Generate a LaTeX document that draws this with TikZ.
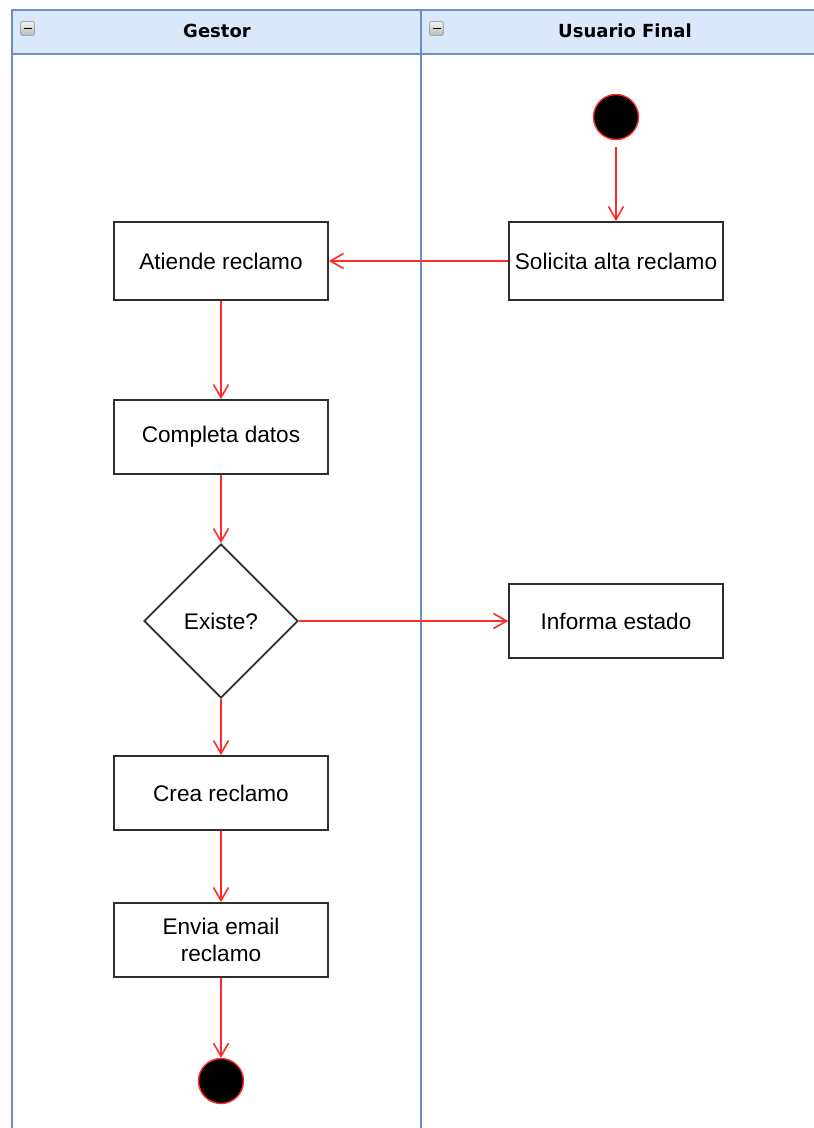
\documentclass[tikz,border=0pt]{standalone}
\usepackage{fontspec}
\setmainfont{Liberation Sans}
\newfontfamily\headfont{DejaVu Sans}
\usetikzlibrary{arrows.meta,shapes.geometric}
\definecolor{lanefill}{HTML}{DAE8FC}
\definecolor{laneline}{HTML}{6C8EBF}
\definecolor{flowred}{HTML}{FF2A2A}
\definecolor{boxline}{HTML}{2E2E2E}
\begin{document}
\begin{tikzpicture}[x=1pt,y=-1pt,
  lanehead/.style={font=\headfont\bfseries\fontsize{18}{20}\selectfont},
  action/.style={draw=boxline,line width=1.8pt,fill=white,minimum width=214pt,minimum height=74pt,
    align=center,font=\fontsize{22.6}{27}\selectfont,inner sep=2pt},
  decision/.style={draw=boxline,line width=1.8pt,fill=white,diamond,minimum width=154pt,minimum height=154pt,
    inner sep=0pt,font=\fontsize{22.6}{27}\selectfont},
  terminal/.style={circle,fill=black,draw=flowred,line width=1.4pt,minimum size=45pt,inner sep=0pt},
  flow/.style={draw=flowred,line width=1.6pt,-{Straight Barb[length=13pt,width=15pt,line width=1.6pt]}},
  minusicon/.style={draw=gray!70,rounded corners=1.5pt,line width=0.6pt,top color=gray!10,bottom color=gray!55}
]
\useasboundingbox (0,0) rectangle (814,1128);
\fill[white] (0,0) rectangle (814,1128);

% pool header band
\fill[lanefill] (12,10) rectangle (814,54);
\draw[laneline,line width=1.8pt] (814,10) -- (12,10) -- (12,1128);
\draw[laneline,line width=1.8pt] (12,54) -- (814,54);
\draw[laneline,line width=1.8pt] (421,10) -- (421,1128);

% collapse buttons
\draw[minusicon] (20.5,21.5) rectangle (34.5,35.5);
\draw[black,line width=1.8pt] (23.5,28.5) -- (31.5,28.5);
\draw[minusicon] (429.5,21.5) rectangle (443.5,35.5);
\draw[black,line width=1.8pt] (432.5,28.5) -- (440.5,28.5);

% lane titles
\node[lanehead] (gestor) at (217,31) {Gestor};
\node[lanehead] (usuario) at (625,31) {Usuario Final};

% activities
\node[terminal] (start) at (616,117) {};
\node[action,minimum height=78pt] (solicita) at (616,261) {Solicita alta reclamo};
\node[action,minimum height=78pt] (atiende) at (221,261) {Atiende reclamo};
\node[action] (completa) at (221,437) {Completa datos};
\node[decision] (existe) at (221,621) {Existe?};
\node[action] (informa) at (616,621) {Informa estado};
\node[action] (crea) at (221,793) {Crea reclamo};
\node[action] (envia) at (221,940) {Envia email\\reclamo};
\node[terminal] (fin) at (221,1081) {};

% control flow
\draw[flow,shorten <=7pt] (start) -- (solicita);
\draw[flow] (solicita) -- (atiende);
\draw[flow] (atiende) -- (completa);
\draw[flow] (completa) -- (existe);
\draw[flow] (existe) -- (informa);
\draw[flow] (existe) -- (crea);
\draw[flow] (crea) -- (envia);
\draw[flow] (envia) -- (fin);
\end{tikzpicture}
\end{document}
